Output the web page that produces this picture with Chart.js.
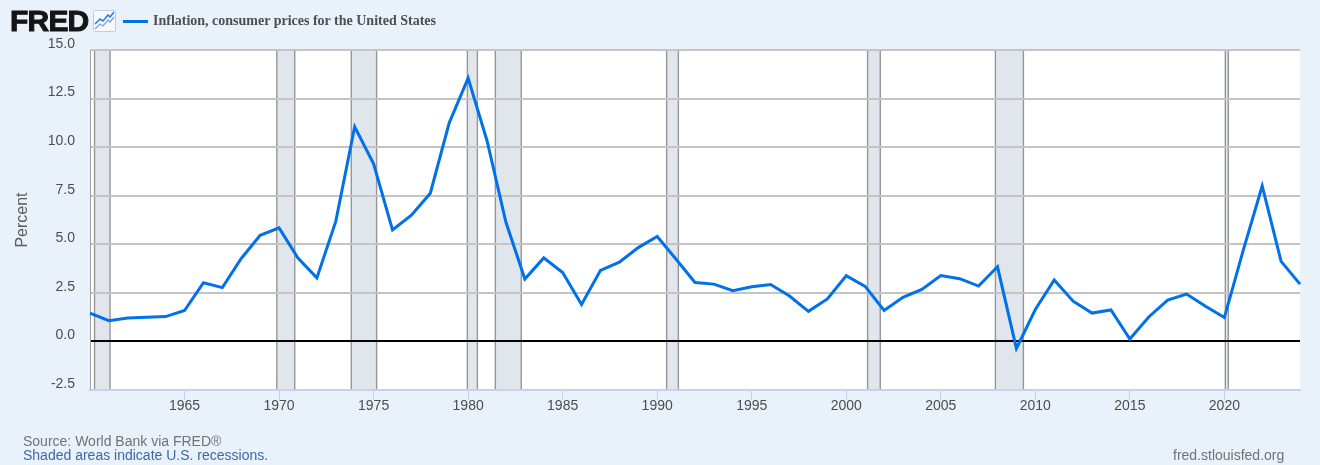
<!DOCTYPE html>
<html>
<head>
<meta charset="utf-8">
<title>Inflation, consumer prices for the United States</title>
<script src="https://cdn.jsdelivr.net/npm/chart.js@4/dist/chart.umd.min.js"></script>
<style>
html,body{margin:0;padding:0;background:#e9f1fa;}
#wrap{position:relative;width:1320px;height:465px;overflow:hidden;}
#wrap canvas{position:absolute;left:0;top:0;}
.lbl{position:absolute;white-space:nowrap;font-family:"Liberation Sans",Arial,sans-serif;}
#logo{left:10px;top:4px;font-size:30px;line-height:34px;font-weight:bold;color:#151515;-webkit-text-stroke:1px #151515;letter-spacing:-.8px;}
#icon{position:absolute;left:93px;top:10px;}
#swatch{position:absolute;left:123px;top:20px;width:25px;height:3px;background:#0071e8;}
#legend{left:153px;top:13px;font-family:"Liberation Serif",serif;font-weight:bold;font-size:14px;line-height:16px;color:#4f4f4f;}
#source{left:23px;top:433px;font-size:14px;line-height:16px;color:#737373;}
#note{left:23px;top:447px;font-size:14px;line-height:16px;color:#3f68a4;}
#site{left:1173px;top:447px;font-size:14px;line-height:16px;color:#737373;}
</style>
</head>
<body>
<div id="wrap">
<canvas id="fredChart" width="1320" height="465"></canvas>
<div class="lbl" id="logo">FRED</div>
<svg id="icon" width="23" height="22" viewBox="0 0 23 22">
<rect x=".5" y=".5" width="22" height="21" rx="1" fill="#f6f9fd" stroke="#c4ccd6"/>
<polyline points="2,14 7,9 10,11 15,5 17,7 21,2" fill="none" stroke="#2f7fe0" stroke-width="1.6"/>
<polyline points="2,19 7,14 10,16 15,10 17,12 21,7" fill="none" stroke="#7aa6e2" stroke-width="1.3"/>
</svg>
<div id="swatch"></div>
<div class="lbl" id="legend">Inflation, consumer prices for the United States</div>
<div class="lbl" id="source">Source: World Bank via FRED®</div>
<div class="lbl" id="note">Shaded areas indicate U.S. recessions.</div>
<div class="lbl" id="site">fred.stlouisfed.org</div>
</div>
<script>
const years = [1960,1961,1962,1963,1964,1965,1966,1967,1968,1969,
1970,1971,1972,1973,1974,1975,1976,1977,1978,1979,
1980,1981,1982,1983,1984,1985,1986,1987,1988,1989,
1990,1991,1992,1993,1994,1995,1996,1997,1998,1999,
2000,2001,2002,2003,2004,2005,2006,2007,2008,2009,
2010,2011,2012,2013,2014,2015,2016,2017,2018,2019,
2020,2021,2022,2023,2024];

const inflation = [1.46,1.07,1.20,1.24,1.28,1.59,3.02,2.77,4.27,5.46,
5.84,4.29,3.27,6.18,11.05,9.14,5.74,6.50,7.63,11.25,
13.55,10.33,6.13,3.21,4.30,3.55,1.90,3.66,4.08,4.83,
5.40,4.23,3.03,2.95,2.61,2.81,2.93,2.34,1.55,2.19,
3.38,2.83,1.59,2.27,2.68,3.39,3.23,2.85,3.84,-0.36,
1.64,3.16,2.07,1.46,1.62,0.12,1.26,2.13,2.44,1.81,
1.23,4.70,8.00,4.12,2.95];

// recession bands, start and end as fractional years
const recessionStart = [1960.24,1969.88,1973.82,1979.96,1981.44,1990.50,2001.13,2007.89,2020.05];
const recessionEnd = [1961.06,1970.83,1975.16,1980.49,1982.81,1991.12,2001.80,2009.37,2020.21];

let points = [];
years.forEach((y,i)=>{
points.push({x:y,y:inflation[i]});
});

// white plot background and recession shading, goes under the grid
const recessionBands = {
id:'recessionBands',
beforeDraw(chart){
const c = chart.ctx;
const a = chart.chartArea;
const xs = chart.scales.x;
c.save();
c.fillStyle = '#ffffff';
c.fillRect(a.left,a.top,a.right-a.left,a.bottom-a.top);
recessionStart.forEach((s,i)=>{
let x0 = xs.getPixelForValue(s);
let x1 = xs.getPixelForValue(recessionEnd[i]);
c.fillStyle = '#e1e5ec';
c.fillRect(x0,a.top,x1-x0,a.bottom-a.top);
c.strokeStyle = '#969696';
c.lineWidth = 1.4;
c.beginPath();
c.moveTo(x0,a.top);
c.lineTo(x0,a.bottom);
c.moveTo(x1,a.top);
c.lineTo(x1,a.bottom);
c.stroke();
});
c.restore();
}
};

new Chart(document.getElementById('fredChart'),{
type:'line',
data:{
datasets:[{
label:'Inflation, consumer prices for the United States',
data:points,
borderColor:'#0071e8',
borderWidth:3,
pointRadius:0,
tension:0,
clip:false
}]
},
options:{
responsive:false,
animation:false,
layout:{padding:{left:0,right:20,top:50,bottom:0}},
plugins:{legend:{display:false},tooltip:{enabled:false}},
scales:{
x:{
type:'linear',
min:1960,
max:2024,
afterFit(s){s.height = 75;},
border:{color:'#c5d3ea',width:2},
grid:{
drawOnChartArea:false,
tickLength:10,
tickWidth:1,
tickColor:(ctx)=> ctx.tick && ctx.tick.value===1960 ? 'rgba(0,0,0,0)' : '#c5d3ea'
},
ticks:{
stepSize:5,
includeBounds:false,
maxRotation:0,
autoSkip:false,
padding:-2,
color:'#4d4d4d',
font:{family:'"Liberation Sans",Arial,sans-serif',size:14},
callback:(v)=> v===1960 ? '' : String(v)
}
},
y:{
min:-2.5,
max:15,
afterFit(s){s.width = 90;},
border:{color:'#a0a0a0',width:1},
grid:{
drawTicks:false,
lineWidth:(ctx)=> ctx.tick && ctx.tick.value===-2.5 ? 0 : 2,
color:(ctx)=> ctx.tick && ctx.tick.value===0 ? '#000000' : '#c4c4c4'
},
ticks:{
stepSize:2.5,
padding:15,
labelOffset:-6,
color:'#4d4d4d',
font:{family:'"Liberation Sans",Arial,sans-serif',size:14},
callback:(v)=> v.toFixed(1)
},
title:{
display:true,
text:'Percent',
color:'#5c5c5c',
padding:{top:13,bottom:0},
font:{family:'"Liberation Sans",Arial,sans-serif',size:16}
}
}
}
},
plugins:[recessionBands]
});
</script>
</body>
</html>
